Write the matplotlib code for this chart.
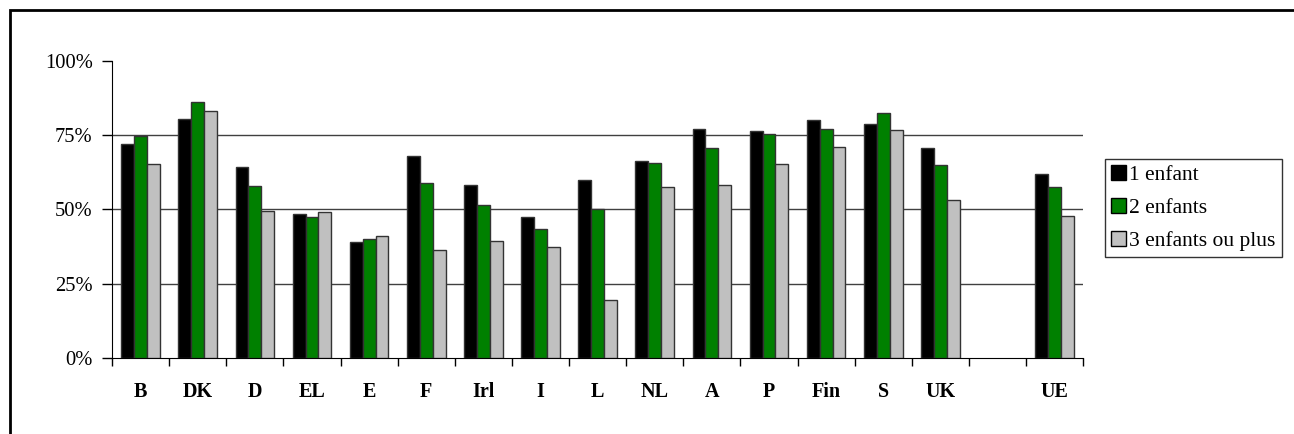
import matplotlib as mpl
import matplotlib.pyplot as plt
import numpy as np
from matplotlib.patches import Rectangle

plt.rcParams['font.family'] = ['Liberation Serif', 'DejaVu Serif']

pays = ['B', 'DK', 'D', 'EL', 'E', 'F', 'Irl', 'I', 'L', 'NL', 'A', 'P', 'Fin', 'S', 'UK', '', 'UE']
un_enfant = [72.1, 80.3, 64.4, 48.3, 39.2, 68.1, 58.1, 47.3, 60.0, 66.2, 77.0, 76.3, 80.1, 78.7, 70.8, np.nan, 61.8]
deux_enfants = [74.8, 86.2, 57.8, 47.5, 40.1, 59.0, 51.6, 43.3, 50.3, 65.7, 70.5, 75.5, 76.9, 82.4, 64.8, np.nan, 57.6]
trois_plus = [65.2, 83.2, 49.4, 49.0, 41.0, 36.5, 39.3, 37.3, 19.5, 57.7, 58.3, 65.4, 71.1, 76.7, 53.0, np.nan, 47.8]

series = [(un_enfant, '1 enfant', 'black'),
          (deux_enfants, '2 enfants', '#008000'),
          (trois_plus, '3 enfants ou plus', '#c0c0c0')]

fig = plt.figure(figsize=(12.94, 4.34), dpi=100)
ax = fig.add_axes([0.0866, 0.175, 0.7505, 0.685])

x = np.arange(len(pays))
w = 0.225
for i, (vals, lab, col) in enumerate(series):
    ax.bar(x + (i - 1) * w, vals, width=w, color=col, edgecolor='#333333', linewidth=1, label=lab, zorder=3)

ax.set_xlim(-0.5, len(pays) - 0.5)
ax.set_ylim(0, 100)
ax.set_yticks([0, 25, 50, 75, 100])
ax.yaxis.set_major_formatter(mpl.ticker.FuncFormatter(lambda v, p: '%d%%' % v))
for g in [25, 50, 75]:
    ax.axhline(g, color='#404040', linewidth=1, zorder=1)

ax.set_xticks(x)
ax.set_xticklabels(pays, fontweight='bold')
ax.set_xticks(np.arange(len(pays) + 1) - 0.5, minor=True)
ax.tick_params(axis='x', which='major', length=0, pad=17, labelsize=14.5)
ax.tick_params(axis='x', which='minor', length=6, width=1, direction='out')
ax.tick_params(axis='y', length=7, width=1, pad=7, labelsize=14.8)

ax.spines['top'].set_visible(False)
ax.spines['right'].set_visible(False)

leg = ax.legend(loc='upper left', bbox_to_anchor=(1.022, 0.67), fontsize=15.5,
                frameon=True, fancybox=False, edgecolor='black',
                handlelength=0.68, handleheight=0.68, handletextpad=0.15,
                labelspacing=0.6, borderpad=0.3, borderaxespad=0)
leg.get_frame().set_linewidth(1)
for h in leg.legend_handles:
    h.set_edgecolor('black')

# cadre autour du graphique
fig.patches.append(Rectangle((10 / 1294, -0.1), 1.2, 1 - 10 / 434 + 0.1,
                             transform=fig.transFigure, fill=False,
                             edgecolor='black', linewidth=2))

fig.savefig('out.png', dpi=100)
